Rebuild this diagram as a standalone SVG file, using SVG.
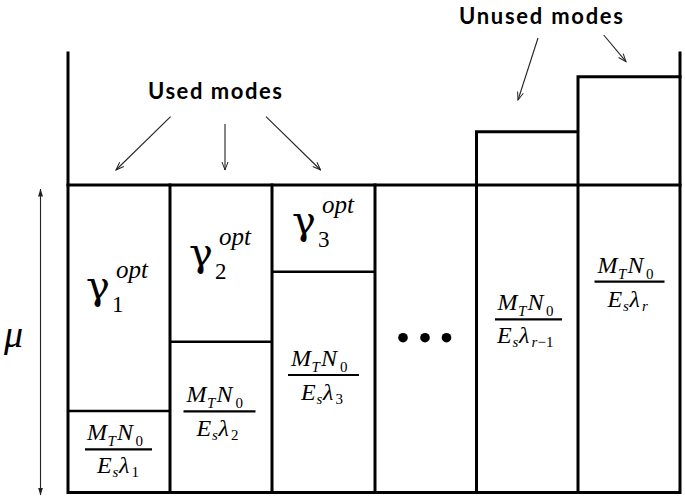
<svg xmlns="http://www.w3.org/2000/svg" width="685" height="500" viewBox="0 0 685 500">
<style>
.frame{stroke:#000;stroke-width:3;fill:none;stroke-linecap:square}
.inner{stroke:#000;stroke-width:2.6;fill:none}
.bar{stroke:#000;stroke-width:2.2}
.conn{stroke:#222;stroke-width:1.1;fill:none}
.lbl{font-family:Lato,"Liberation Sans",sans-serif;font-weight:bold;font-size:22px;fill:#000}
.math{font-family:"Liberation Serif","DejaVu Serif",serif;font-size:24px;font-style:italic;fill:#000}
.up{font-style:normal}
.sub{font-size:15px}
.gam{font-family:"DejaVu Serif","Liberation Serif",serif;font-size:40px;fill:#000}
.gsub{font-family:"Liberation Serif","DejaVu Serif",serif;font-size:23px;fill:#000}
.gsup{font-family:"Liberation Serif","DejaVu Serif",serif;font-size:25px;font-style:italic;fill:#000}
</style>
<defs>
<marker id="ah" markerUnits="userSpaceOnUse" markerWidth="10" markerHeight="8" refX="9" refY="4" orient="auto">
<path d="M1,1 L9,4 L1,7" fill="none" stroke="#222" stroke-width="1"/>
</marker>
<marker id="dh" markerUnits="userSpaceOnUse" markerWidth="8" markerHeight="6" refX="7.5" refY="3" orient="auto-start-reverse">
<path d="M0,0.5 L8,3 L0,5.5 z" fill="#222"/>
</marker>
</defs>

<g id="frame">
<path class="frame" d="M68,53 V492.5 H680 V53"/>
<path class="frame" d="M68,185 H680"/>
<path class="frame" d="M476.5,492.5 V131.7 H578 M578,492.5 V76.7 H680"/>
<path class="frame" d="M170,185 V492.5 M272,185 V492.5 M375,185 V492.5"/>
</g>

<g id="mode1">
<line class="inner" x1="68" y1="411" x2="170" y2="411"/>
<text class="gam" x="86" y="299">γ</text>
<text class="gsub" x="112" y="312">1</text>
<text class="gsup" x="116" y="278">opt</text>
<g transform="translate(85,449.3)">
<text class="math"><tspan x="2" y="-9">M</tspan><tspan class="sub" x="22.5" y="-3">T</tspan><tspan x="32" y="-9">N</tspan><tspan class="sub up" x="50.5" y="-3">0</tspan></text>
<line class="bar" x1="0" y1="0" x2="67" y2="0"/>
<text class="math"><tspan x="12" y="24">E</tspan><tspan class="sub" x="27.5" y="28">s</tspan><tspan x="34" y="24">λ</tspan><tspan class="sub up" x="46.5" y="28">1</tspan></text>
</g>
</g>

<g id="mode2">
<line class="inner" x1="170" y1="341.7" x2="272" y2="341.7"/>
<text class="gam" x="189" y="266">γ</text>
<text class="gsub" x="215" y="279">2</text>
<text class="gsup" x="219" y="245">opt</text>
<g transform="translate(183.5,411.3)">
<text class="math"><tspan x="3" y="-9">M</tspan><tspan class="sub" x="23.5" y="-3">T</tspan><tspan x="33" y="-9">N</tspan><tspan class="sub up" x="52" y="-3">0</tspan></text>
<line class="bar" x1="0" y1="0" x2="72" y2="0"/>
<text class="math"><tspan x="13" y="25">E</tspan><tspan class="sub" x="28.5" y="29">s</tspan><tspan x="35" y="25">λ</tspan><tspan class="sub up" x="47.5" y="29">2</tspan></text>
</g>
</g>

<g id="mode3">
<line class="inner" x1="272" y1="271.7" x2="375" y2="271.7"/>
<text class="gam" x="292" y="233.5">γ</text>
<text class="gsub" x="318" y="246.5">3</text>
<text class="gsup" x="322" y="212.5">opt</text>
<g transform="translate(288,375)">
<text class="math"><tspan x="3" y="-9">M</tspan><tspan class="sub" x="23.5" y="-3">T</tspan><tspan x="33" y="-9">N</tspan><tspan class="sub up" x="52" y="-3">0</tspan></text>
<line class="bar" x1="0" y1="0" x2="71" y2="0"/>
<text class="math"><tspan x="13" y="25">E</tspan><tspan class="sub" x="28.5" y="29">s</tspan><tspan x="35" y="25">λ</tspan><tspan class="sub up" x="47.5" y="29">3</tspan></text>
</g>
</g>

<g id="ellipsis">
<circle cx="403" cy="337.7" r="4.8" fill="#000"/>
<circle cx="425" cy="337.7" r="4.8" fill="#000"/>
<circle cx="446.5" cy="337.7" r="4.8" fill="#000"/>
</g>

<g id="mode-r-1">
<g transform="translate(495,319.3)">
<text class="math"><tspan x="2.5" y="-9">M</tspan><tspan class="sub" x="23" y="-3">T</tspan><tspan x="32.5" y="-9">N</tspan><tspan class="sub up" x="51" y="-3">0</tspan></text>
<line class="bar" x1="0" y1="0" x2="67" y2="0"/>
<text class="math"><tspan x="2" y="24">E</tspan><tspan class="sub" x="17.5" y="28">s</tspan><tspan x="24" y="24">λ</tspan><tspan class="sub" x="36.5" y="28">r</tspan><tspan class="sub up" x="42.5" y="28">−1</tspan></text>
</g>
</g>

<g id="mode-r">
<g transform="translate(594.5,281.7)">
<text class="math"><tspan x="3" y="-9">M</tspan><tspan class="sub" x="23.5" y="-3">T</tspan><tspan x="33" y="-9">N</tspan><tspan class="sub up" x="51.5" y="-3">0</tspan></text>
<line class="bar" x1="0" y1="0" x2="70" y2="0"/>
<text class="math"><tspan x="13" y="25">E</tspan><tspan class="sub" x="28.5" y="29">s</tspan><tspan x="35" y="25">λ</tspan><tspan class="sub" x="47.5" y="29">r</tspan></text>
</g>
</g>

<g id="labels">
<text class="lbl" x="215" y="99" text-anchor="middle" textLength="134">Used modes</text>
<text class="lbl" x="541" y="24" text-anchor="middle" textLength="164">Unused modes</text>
<text class="math" x="4" y="347" style="font-size:38px">μ</text>
</g>

<g id="connectors">
<line class="conn" x1="170.6" y1="116.7" x2="116" y2="170" marker-end="url(#ah)"/>
<line class="conn" x1="225" y1="124" x2="225" y2="170" marker-end="url(#ah)"/>
<line class="conn" x1="266" y1="116.7" x2="320.6" y2="170" marker-end="url(#ah)"/>
<line class="conn" x1="538" y1="38" x2="518" y2="100" marker-end="url(#ah)"/>
<line class="conn" x1="603.7" y1="35" x2="626" y2="61.7" marker-end="url(#ah)"/>
<line class="conn" x1="40.5" y1="189" x2="40.5" y2="495" marker-start="url(#dh)" marker-end="url(#dh)"/>
</g>
</svg>
